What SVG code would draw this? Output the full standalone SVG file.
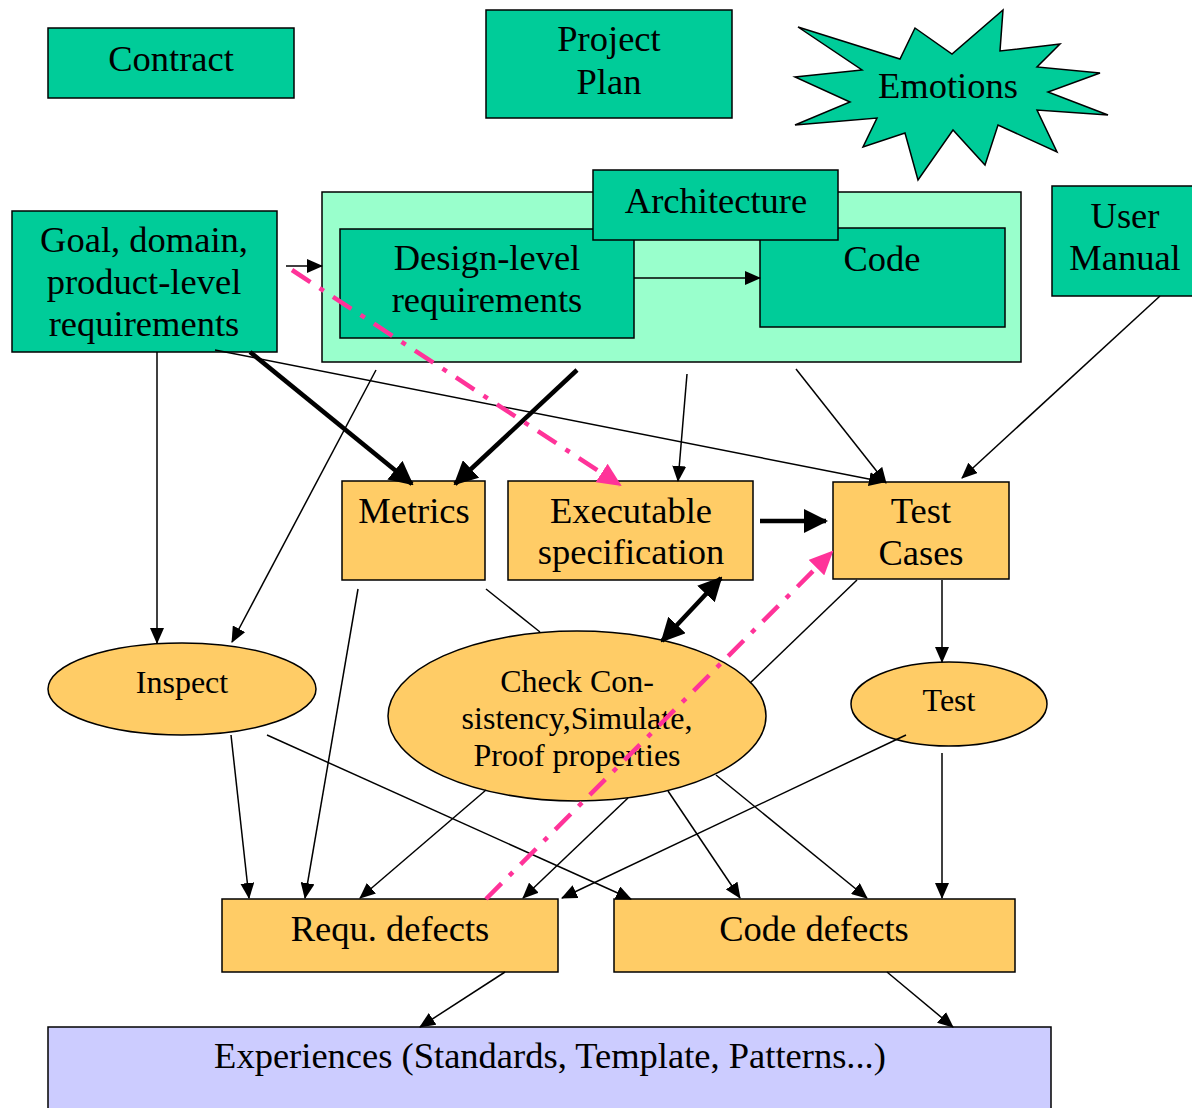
<svg xmlns="http://www.w3.org/2000/svg" width="1192" height="1108" viewBox="0 0 1192 1108">
<defs>
<marker id="a" markerUnits="userSpaceOnUse" markerWidth="16" markerHeight="14" refX="15" refY="7" orient="auto"><path d="M0,0 L16,7 L0,14 Z" fill="#000"/></marker>
<marker id="ab" markerUnits="userSpaceOnUse" markerWidth="24" markerHeight="24" refX="22" refY="12" orient="auto"><path d="M0,0 L24,12 L0,24 Z" fill="#000"/></marker>
<marker id="abs" markerUnits="userSpaceOnUse" markerWidth="24" markerHeight="24" refX="2" refY="12" orient="auto"><path d="M24,0 L0,12 L24,24 Z" fill="#000"/></marker>
<marker id="ap" markerUnits="userSpaceOnUse" markerWidth="24" markerHeight="22" refX="22" refY="11" orient="auto"><path d="M0,0 L24,11 L0,22 Z" fill="#ff3399"/></marker>
</defs>
<style>
.g{fill:#00cc99;stroke:#000;stroke-width:1.5}
.lg{fill:#99ffcc;stroke:#000;stroke-width:1.5}
.o{fill:#ffcc66;stroke:#000;stroke-width:1.5}
.b{fill:#ccccff;stroke:#000;stroke-width:1.5}
text{font-family:"Liberation Serif","Times New Roman",serif;font-size:36.5px;text-anchor:middle;fill:#000}
.s{font-size:32px}
.c line{stroke:#000;stroke-width:1.5;fill:none}
.c .t{stroke-width:4.5}
.c .p{stroke:#ff3399;stroke-width:4.5;stroke-dasharray:22,11,5,11}
</style>
<g id="contract"><rect class="g" x="48" y="28" width="246" height="70"/><text x="171" y="71">Contract</text></g>
<g id="project-plan"><rect class="g" x="486" y="10" width="246" height="108"/><text x="609" y="51">Project</text><text x="609" y="94">Plan</text></g>
<g id="emotions"><polygon class="g" points="798,27 900,59 915,28 952,54 1003,10 1000,51 1060,44 1037,67 1100,73 1048,92 1108,115 1037,110 1057,152 998,125 985,165 953,130 918,180 905,133 863,147 877,118 795,125 850,102 795,77 862,70"/><text x="948" y="98">Emotions</text></g>
<g id="design-container"><rect class="lg" x="322" y="192" width="699" height="170"/></g>
<g id="goal"><rect class="g" x="12" y="211" width="265" height="141"/><text x="144" y="252">Goal, domain,</text><text x="144" y="294">product-level</text><text x="144" y="336">requirements</text></g>
<g id="design-level"><rect class="g" x="340" y="229" width="294" height="109"/><text x="487" y="270">Design-level</text><text x="487" y="312">requirements</text></g>
<g id="code"><rect class="g" x="760" y="228" width="245" height="99"/><text x="882" y="271">Code</text></g>
<g id="architecture"><rect class="g" x="593" y="170" width="245" height="70"/><text x="716" y="213">Architecture</text></g>
<g id="user-manual"><rect class="g" x="1052" y="186" width="142" height="110"/><text x="1125" y="228">User</text><text x="1125" y="270">Manual</text></g>
<g id="metrics"><rect class="o" x="342" y="481" width="143" height="99"/><text x="414" y="523">Metrics</text></g>
<g id="exec-spec"><rect class="o" x="508" y="481" width="245" height="99"/><text x="631" y="523">Executable</text><text x="631" y="564">specification</text></g>
<g id="test-cases"><rect class="o" x="833" y="482" width="176" height="97"/><text x="921" y="523">Test</text><text x="921" y="565">Cases</text></g>
<g id="inspect"><ellipse class="o" cx="182" cy="689" rx="134" ry="46"/><text class="s" x="182" y="693">Inspect</text></g>
<g id="check"><ellipse class="o" cx="577" cy="716" rx="189" ry="85"/><text class="s" x="577" y="692">Check Con-</text><text class="s" x="577" y="729">sistency,Simulate,</text><text class="s" x="577" y="766">Proof properties</text></g>
<g id="test"><ellipse class="o" cx="949" cy="704" rx="98" ry="42"/><text class="s" x="949" y="711">Test</text></g>
<g id="requ-defects"><rect class="o" x="222" y="899" width="336" height="73"/><text x="390" y="941">Requ. defects</text></g>
<g id="code-defects"><rect class="o" x="614" y="899" width="401" height="73"/><text x="814" y="941">Code defects</text></g>
<g id="experiences"><rect class="b" x="48" y="1027" width="1003" height="90"/><text x="550" y="1068">Experiences (Standards, Template, Patterns...)</text></g>
<g id="connectors" class="c">
<line x1="286" y1="266" x2="322" y2="266" marker-end="url(#a)"/>
<line x1="634" y1="278" x2="760" y2="278" marker-end="url(#a)"/>
<line class="t" x1="250" y1="352" x2="412" y2="484" marker-end="url(#ab)"/>
<line class="t" x1="577" y1="370" x2="455" y2="484" marker-end="url(#ab)"/>
<line x1="157" y1="352" x2="157" y2="643" marker-end="url(#a)"/>
<line x1="215" y1="350" x2="884" y2="482" marker-end="url(#a)"/>
<line x1="376" y1="370" x2="232" y2="642" marker-end="url(#a)"/>
<line x1="687" y1="374" x2="678" y2="481" marker-end="url(#a)"/>
<line x1="796" y1="369" x2="886" y2="483" marker-end="url(#a)"/>
<line x1="1160" y1="296" x2="962" y2="478" marker-end="url(#a)"/>
<line class="t" x1="760" y1="521" x2="826" y2="521" marker-end="url(#ab)"/>
<line class="t" x1="662" y1="641" x2="721" y2="578" marker-start="url(#abs)" marker-end="url(#ab)"/>
<line x1="942" y1="580" x2="942" y2="662" marker-end="url(#a)"/>
<line x1="486" y1="589" x2="540" y2="632"/>
<line x1="857" y1="580" x2="750" y2="683"/>
<line x1="358" y1="589" x2="305" y2="898" marker-end="url(#a)"/>
<line x1="231" y1="735" x2="249" y2="898" marker-end="url(#a)"/>
<line x1="267" y1="735" x2="631" y2="899" marker-end="url(#a)"/>
<line x1="486" y1="790" x2="360" y2="898" marker-end="url(#a)"/>
<line x1="628" y1="798" x2="523" y2="898" marker-end="url(#a)"/>
<line x1="668" y1="791" x2="740" y2="898" marker-end="url(#a)"/>
<line x1="716" y1="775" x2="867" y2="898" marker-end="url(#a)"/>
<line x1="906" y1="735" x2="562" y2="898" marker-end="url(#a)"/>
<line x1="942" y1="753" x2="942" y2="898" marker-end="url(#a)"/>
<line x1="505" y1="972" x2="420" y2="1027" marker-end="url(#a)"/>
<line x1="887" y1="972" x2="953" y2="1027" marker-end="url(#a)"/>
<line class="p" x1="292" y1="270" x2="620" y2="485" marker-end="url(#ap)"/>
<line class="p" x1="486" y1="899" x2="832" y2="552" marker-end="url(#ap)"/>
</g>
</svg>
